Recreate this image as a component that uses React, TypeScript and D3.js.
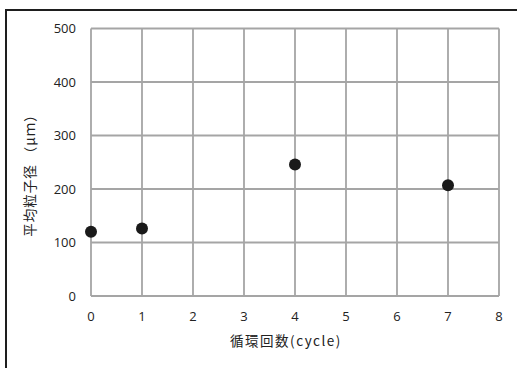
import React from "react";
import * as d3 from "d3";

const cycles = [0, 1, 4, 7];
const diameters = [120, 126, 246, 207];
const xTicks = [0, 1, 2, 3, 4, 5, 6, 7, 8];
const yTicks = [0, 100, 200, 300, 400, 500];

const W = 517;
const H = 368;
const plot = { left: 91, right: 499, top: 28.5, bottom: 296 };
const sansFont = "'Open Sans', 'Liberation Sans', sans-serif";
const cjkFont = "'Noto Sans CJK JP', sans-serif";

export default function App() {
  const x = d3.scaleLinear().domain([0, 8]).range([plot.left, plot.right]);
  const y = d3.scaleLinear().domain([0, 500]).range([plot.bottom, plot.top]);
  const grid = "#a5a5a5";

  return (
    <svg
      width={W}
      height={H}
      style={{ position: "absolute", left: 0, top: 0, background: "#fff" }}
    >
      {/* chart frame */}
      <line x1={6} x2={W} y1={10} y2={10} stroke="#1e1e1e" strokeWidth={2} />
      <line x1={6} x2={6} y1={9} y2={H} stroke="#1e1e1e" strokeWidth={2} />

      {/* grid */}
      {xTicks.map((t) => (
        <line
          key={"gx" + t}
          x1={x(t)}
          x2={x(t)}
          y1={plot.top}
          y2={plot.bottom}
          stroke={grid}
          strokeWidth={1.8}
        />
      ))}
      {yTicks.map((t) => (
        <line
          key={"gy" + t}
          x1={plot.left}
          x2={plot.right}
          y1={y(t)}
          y2={y(t)}
          stroke={grid}
          strokeWidth={1.8}
        />
      ))}

      {/* tick labels */}
      {yTicks.map((t) => (
        <text
          key={"ty" + t}
          x={76}
          y={y(t)}
          dy="0.35em"
          textAnchor="end"
          fontFamily={sansFont}
          fontSize={13}
          fill="#222"
        >
          {t}
        </text>
      ))}
      {xTicks.map((t) => (
        <text
          key={"tx" + t}
          x={x(t)}
          y={316}
          dy="0.35em"
          textAnchor="middle"
          fontFamily={sansFont}
          fontSize={13}
          fill="#222"
        >
          {t}
        </text>
      ))}

      {/* axis titles */}
      <text
        x={286}
        y={341}
        dy="0.35em"
        textAnchor="middle"
        fontFamily={cjkFont}
        fontSize={13.5}
        letterSpacing={1.5}
        fill="#222"
      >
        循環回数(cycle)
      </text>
      <text
        transform={`translate(30,172) rotate(-90)`}
        dy="0.35em"
        textAnchor="middle"
        fontFamily={cjkFont}
        fontSize={13.5}
        letterSpacing={1}
        fill="#222"
      >
        平均粒子径 （μｍ）
      </text>

      {/* data points */}
      {cycles.map((c, i) => (
        <circle key={"p" + i} cx={x(c)} cy={y(diameters[i])} r={6} fill="#1a1a1a" />
      ))}
    </svg>
  );
}
